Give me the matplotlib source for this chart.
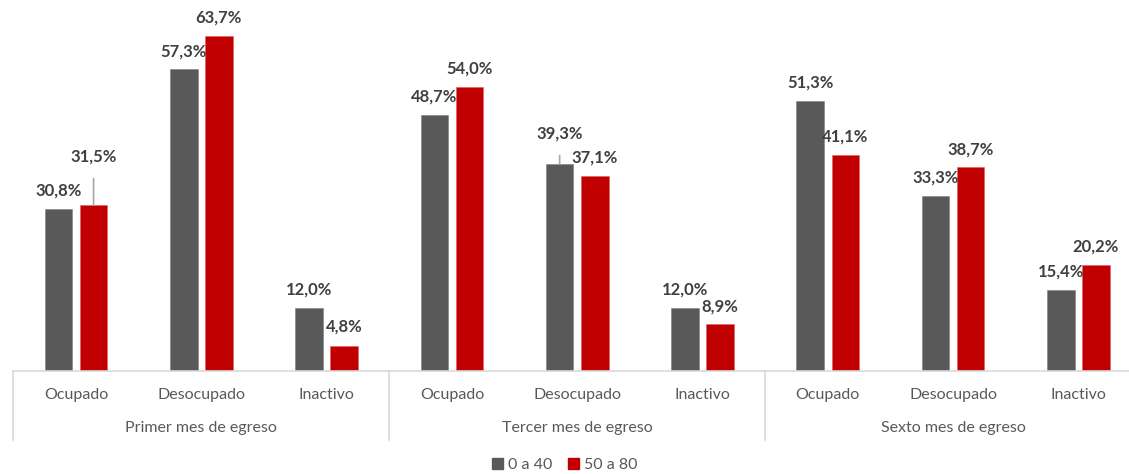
"""Condicion de actividad por mes de egreso y grupo de edad"""

import numpy as np
import matplotlib.pyplot as plt
from matplotlib.transforms import blended_transform_factory
from matplotlib.patches import Patch

plt.rcParams['font.family'] = ['Lato', 'DejaVu Sans']

#-- data
periodos = ['Primer mes de egreso', 'Tercer mes de egreso', 'Sexto mes de egreso']
categorias = ['Ocupado', 'Desocupado', 'Inactivo']
series = ['0 a 40', '50 a 80']
valores_0_40 = [30.8, 57.3, 12.0, 48.7, 39.3, 12.0, 51.3, 33.3, 15.4]
valores_50_80 = [31.5, 63.7, 4.8, 54.0, 37.1, 8.9, 41.1, 38.7, 20.2]

#-- label offsets above the bar top (points); a few were moved by hand
offset_0_40 = [13, 13, 13, 13, 22, 13, 13, 13, 13]
offset_50_80 = [35, 13, 14, 13, 13, 13, 13, 13, 13]
leader_0_40 = [False, False, False, False, True, False, False, False, False]
leader_50_80 = [True, False, False, False, False, False, False, False, False]

GRIS = '#595959'
ROJO = '#C00000'
TEXTO = '#404040'
EJE = '#D9D9D9'

#-------------------------------------------------------------------------------

def etiquetar(ax, x, y, off, leader):
    texto = '{:.1f}%'.format(y).replace('.', ',')
    arrow = None
    if leader:
        arrow = dict(arrowstyle='-', color='#A6A6A6', lw=1.2,
                     shrinkA=8, shrinkB=0)
    ax.annotate(texto, xy=(x, y), xytext=(0, off), textcoords='offset points',
                ha='center', va='center', fontsize=12, fontweight='bold',
                color=TEXTO, arrowprops=arrow)


def main():
    fig = plt.figure(figsize=(11.29, 4.74), dpi=100)
    ax = fig.add_axes([13.4 / 1129, 103 / 474, 1127.6 / 1129, 371 / 474])

    x = np.arange(len(valores_0_40))
    w = 0.22
    d = 0.14
    ax.bar(x - d, valores_0_40, w, color=GRIS, edgecolor='#7f7f7f', lw=0.4)
    ax.bar(x + d, valores_50_80, w, color=ROJO, edgecolor='#e06060', lw=0.4)

    for i in range(len(x)):
        etiquetar(ax, x[i] - d, valores_0_40[i], offset_0_40[i], leader_0_40[i])
        etiquetar(ax, x[i] + d, valores_50_80[i], offset_50_80[i], leader_50_80[i])

    ax.set_xlim(-0.5, 8.5)
    ax.set_ylim(0, 70.5)
    ax.set_yticks([])
    for s in ['top', 'right', 'left']:
        ax.spines[s].set_visible(False)
    ax.spines['bottom'].set_color(EJE)
    ax.spines['bottom'].set_linewidth(1.2)

    ax.set_xticks(x)
    ax.set_xticklabels(categorias * len(periodos), fontsize=11.5, color=GRIS)
    ax.tick_params(axis='x', length=0, pad=12)

    trans = blended_transform_factory(ax.transData, ax.transAxes)
    for k, p in enumerate(periodos):
        ax.text(3 * k + 1, -0.154, p, transform=trans, ha='center',
                va='center', fontsize=11.5, color=GRIS)
    for b in [-0.5, 2.5, 5.5, 8.5]:
        ax.plot([b, b], [0, -0.186], transform=trans, color=EJE, lw=1.2,
                clip_on=False)

    handles = [Patch(color=GRIS, label=series[0]),
               Patch(color=ROJO, label=series[1])]
    leg = fig.legend(handles=handles, loc='center', bbox_to_anchor=(0.5, 9 / 474),
                     ncol=2, frameon=False, fontsize=11.5, handlelength=0.7,
                     handleheight=0.7, handletextpad=0.3, columnspacing=1.0)
    for t in leg.get_texts():
        t.set_color(GRIS)

    fig.savefig('out.png', dpi=100)

#-------------------------------------------------------------------------------

if __name__ == "__main__":
    main()
